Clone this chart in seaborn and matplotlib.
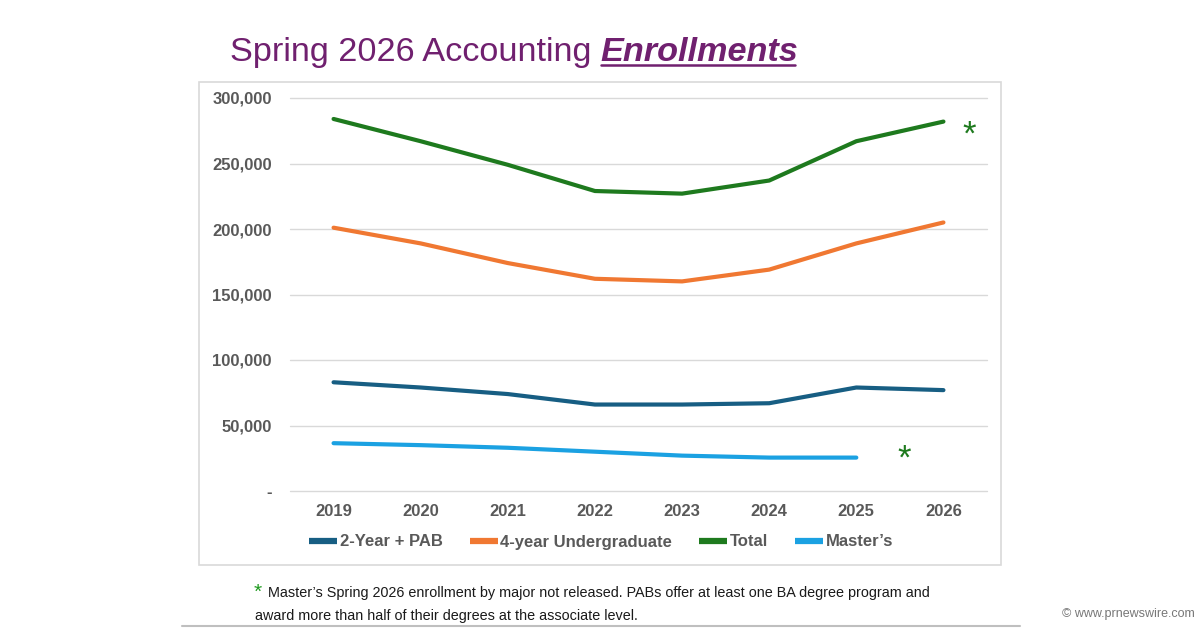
#!/usr/bin/env python3
"""
Spring 2026 accounting enrollments by program type.
"""

import numpy as np
import pandas as pd
import seaborn as sns
import matplotlib.pyplot as plt
from matplotlib.lines import Line2D
from matplotlib.patches import Rectangle
from matplotlib.ticker import FuncFormatter

years = [2019, 2020, 2021, 2022, 2023, 2024, 2025, 2026]
two_year_pab = [83000, 79000, 74000, 66000, 66000, 67000, 79000, 77000]
four_year_ug = [201000, 189000, 174000, 162000, 160000, 169000, 189000, 205000]
total = [284000, 267000, 249000, 229000, 227000, 237000, 267000, 282000]
masters = [36500, 35000, 33000, 30000, 27000, 25500, 25500, np.nan]

series_names = ["2-Year + PAB", "4-year Undergraduate", "Total", "Master\u2019s"]
palette = {
    "2-Year + PAB": "#175E83",
    "4-year Undergraduate": "#F07832",
    "Total": "#1E7A1E",
    "Master\u2019s": "#1BA1E2",
}

df = pd.DataFrame({
    "year": years * 4,
    "enrollment": two_year_pab + four_year_ug + total + masters,
    "series": np.repeat(series_names, len(years)),
})

sns.set_theme(style="white")
plt.rcParams["font.family"] = ["Liberation Sans", "DejaVu Sans"]

W, H = 1200, 628
fig = plt.figure(figsize=(12, 6.28), dpi=100)
ax = fig.add_axes([290 / W, 1 - 491 / H, (987 - 290) / W, (491 - 98) / H])

sns.lineplot(data=df, x="year", y="enrollment", hue="series", palette=palette,
             hue_order=series_names, lw=3, ax=ax, legend=False,
             solid_capstyle="round")

ax.set_xlim(2018.5, 2026.5)
ax.set_ylim(0, 300000)
ax.set_xticks(years)
ax.set_yticks(range(0, 300001, 50000))
ax.yaxis.set_major_formatter(FuncFormatter(lambda v, _: "-" if v == 0 else f"{int(v):,}"))
ax.grid(axis="y", color="#D9D9D9", lw=1)
ax.grid(axis="x", visible=False)
for gl in ax.get_ygridlines():
    gl.set_clip_on(False)
for s in ax.spines.values():
    s.set_visible(False)
ax.tick_params(axis="y", length=0, pad=13, labelsize=12, labelcolor="#595959")
ax.tick_params(axis="x", length=0, pad=9, labelsize=12, labelcolor="#595959")
for lab in ax.get_xticklabels() + ax.get_yticklabels():
    lab.set_fontweight("bold")
ax.set_xlabel("")
ax.set_ylabel("")

# asterisks for the footnote
ax.text(2026.3, 272000, "*", color="#1E7A1E", fontsize=25, ha="center", va="center")
ax.text(2025.55, 24000, "*", color="#1E7A1E", fontsize=25, ha="center", va="center")

# legend
handles = [Line2D([], [], color=palette[n], lw=4.5, solid_capstyle="butt") for n in series_names]
fig.legend(handles, series_names, loc="center", bbox_to_anchor=(601 / W, 1 - 542 / H),
           ncol=4, frameon=False, handlelength=1.7, handletextpad=0.15,
           columnspacing=1.6, prop={"weight": "bold", "size": 12},
           labelcolor="#595959")

# chart border
fig.patches.append(Rectangle((199 / W, 1 - 565 / H), 802 / W, 483 / H,
                             transform=fig.transFigure, fill=False,
                             edgecolor="#D9D9D9", lw=1.2))

# title: regular part + bold italic underlined part
title_color = "#70206F"
t1 = fig.text(230 / W, 1 - 61 / H, "Spring 2026 Accounting ", color=title_color,
              fontsize=24.7, ha="left", va="baseline")
fig.canvas.draw()
bb = t1.get_window_extent()
x2 = bb.x1 / W
t2 = fig.text(x2, 1 - 61 / H, "Enrollments", color=title_color, fontsize=24.7,
              fontweight="bold", fontstyle="italic", ha="left", va="baseline")
fig.canvas.draw()
bb2 = t2.get_window_extent()
fig.add_artist(Line2D([bb2.x0 / W, bb2.x1 / W - 0.003], [1 - 65 / H, 1 - 65 / H],
                      color=title_color, lw=1.8, transform=fig.transFigure))

# footnote
fig.text(258 / W, 1 - 592 / H, "*", color="#1E9A1E", fontsize=15, ha="center", va="center")
fig.text(268 / W, 1 - 593 / H,
         "Master\u2019s Spring 2026 enrollment by major not released. "
         "PABs offer at least one BA degree program and",
         fontsize=10.4, color="#1A1A1A", ha="left", va="center")
fig.text(255 / W, 1 - 616 / H,
         "award more than half of their degrees at the associate level.",
         fontsize=10.4, color="#1A1A1A", ha="left", va="center")
fig.add_artist(Line2D([182 / W, 1020 / W], [1 - 626 / H, 1 - 626 / H],
                      color="#BFBFBF", lw=1.5, transform=fig.transFigure))
fig.text(1195 / W, 1 - 614 / H, "\u00a9 www.prnewswire.com", fontsize=9,
         color="#777777", ha="right", va="center")

fig.savefig("out.png", dpi=100)
